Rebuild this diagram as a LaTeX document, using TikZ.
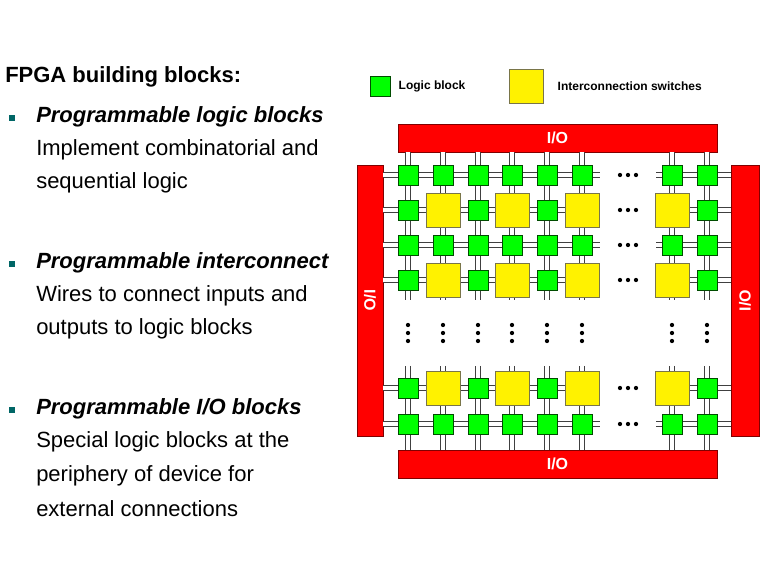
\documentclass[tikz,border=0pt]{standalone}
\usepackage{fontspec}
\setmainfont{Liberation Sans}
\tikzset{>=latex}
\tikzstyle{logic}=[draw=black!70!green,fill=green,minimum size=15pt,inner sep=0pt]
\tikzstyle{switch}=[draw=black!60!yellow,fill=yellow,minimum size=25.5pt,inner sep=0pt]
\tikzstyle{iobar}=[draw=red!50!black,fill=red,inner sep=0pt]
\tikzstyle{wire}=[double distance=3.6pt,draw=black!75,line width=0.8pt,double=white]
\tikzstyle{heading}=[anchor=west,font=\fontsize{16.5}{18}\selectfont\bfseries\itshape,inner sep=0pt]
\tikzstyle{body}=[anchor=west,font=\fontsize{16.5}{18}\selectfont,inner sep=0pt]
\tikzstyle{bullet}=[fill=teal!80!black,minimum size=5pt,inner sep=0pt]

\begin{document}
\begin{tikzpicture}[x=0.75pt,y=-0.75pt]
  \useasboundingbox (0,0) rectangle (769,580);

  % text on the left
  \node[anchor=west,inner sep=0pt,font=\fontsize{16.5}{18}\selectfont\bfseries] (title) at (5,77) {FPGA building blocks:};
  \node[bullet] (b1) at (12,118) {};
  \node[heading] (h1) at (36,117) {Programmable logic blocks};
  \node[body] (t1a) at (36,150) {Implement combinatorial and};
  \node[body] (t1b) at (36,183) {sequential logic};
  \node[bullet] (b2) at (12,264) {};
  \node[heading] (h2) at (36,263) {Programmable interconnect};
  \node[body] (t2a) at (36,296) {Wires to connect inputs and};
  \node[body] (t2b) at (36,329) {outputs to logic blocks};
  \node[bullet] (b3) at (12,410) {};
  \node[heading] (h3) at (36,409) {Programmable I/O blocks};
  \node[body] (t3a) at (36,442) {Special logic blocks at the};
  \node[body] (t3b) at (36,476) {periphery of device for};
  \node[body] (t3c) at (36,509) {external connections};

  % legend
  \node[logic] (lgl) at (380,86) {};
  \node[anchor=west,font=\fontsize{9}{10}\selectfont\bfseries] (lgltxt) at (394,86) {Logic block};
  \node[switch] (lgs) at (526,86) {};
  \node[anchor=west,font=\fontsize{9}{10}\selectfont\bfseries] (lgstxt) at (553,86) {Interconnection switches};

  % I/O bars
  \node[iobar,minimum width=239pt,minimum height=21pt] (iotop) at (557.5,138) {};
  \node[text=white,font=\bfseries\large] at (iotop) {I/O};
  \node[iobar,minimum width=239pt,minimum height=21pt] (iobot) at (557.5,464) {};
  \node[text=white,font=\bfseries\large] at (iobot) {I/O};
  \node[iobar,minimum width=19.5pt,minimum height=203pt] (ioleft) at (370,300.5) {};
  \node[text=white,font=\bfseries\large,rotate=-90] at (ioleft) {I/O};
  \node[iobar,minimum width=21pt,minimum height=203pt] (ioright) at (745,300.5) {};
  \node[text=white,font=\bfseries\large,rotate=90] at (ioright) {I/O};

  % wires: rows
  \foreach \ry in {175,210,245,280,388,424} {
    \draw[wire] (ioleft.east |- 0,\ry) -- (600,\ry);
    \draw[wire] (656,\ry) -- (ioright.west |- 0,\ry);
    \foreach \dx in {620,628,636}
      \fill (\dx,\ry) circle (1.6pt);
  }
  % wires: columns
  \foreach \cx in {408,443,478,512,547,582,672,707} {
    \draw[wire] (iotop.south -| \cx,0) -- (\cx,300);
    \draw[wire] (\cx,366) -- (iobot.north -| \cx,0);
    \foreach \dy in {325,333,341}
      \fill (\cx,\dy) circle (1.6pt);
  }

  % blocks
  \foreach \ry in {175,245,424}
    \foreach \cx in {408,443,478,512,547,582,672,707}
      \node[logic] at (\cx,\ry) {};
  \foreach \ry in {210,280,388} {
    \foreach \cx in {408,478,547,707}
      \node[logic] at (\cx,\ry) {};
    \foreach \cx in {443,512,582,672}
      \node[switch] at (\cx,\ry) {};
  }

\end{tikzpicture}
\end{document}
